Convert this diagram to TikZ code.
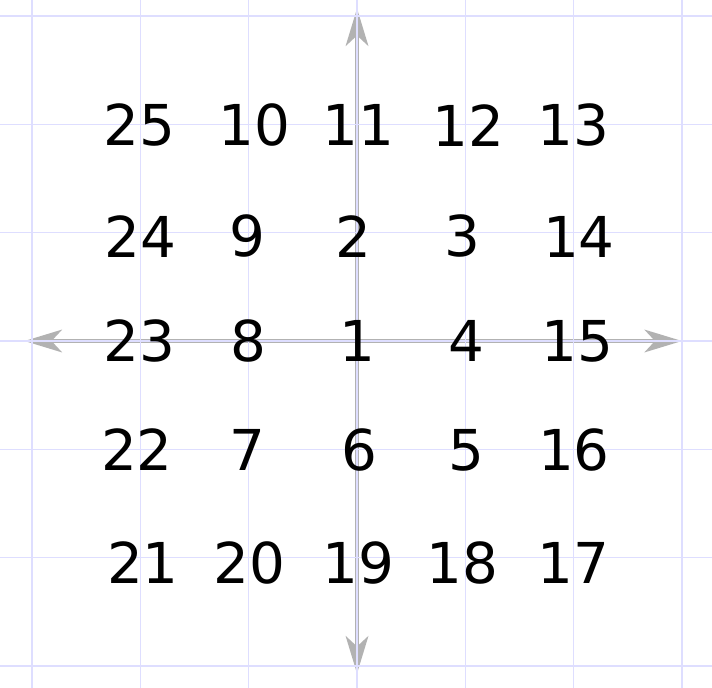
\documentclass[tikz,border=0pt]{standalone}
\usepackage{fontspec}
\setmainfont{DejaVu Sans}
\usetikzlibrary{arrows.meta}
\definecolor{axisG}{RGB}{178,178,178}
\definecolor{gridB}{RGB}{222,222,255}
\tikzset{
  axis/.style={{Stealth[length=9.8pt,width=5.9pt,inset=2.7pt]}-{Stealth[length=9.8pt,width=5.9pt,inset=2.7pt]}, line width=1.2pt, axisG},
  gridln/.style={line width=0.3pt, gridB},
  num/.style={font=\fontsize{14.8}{18}\selectfont, inner sep=0pt},
}

\begin{document}
\begin{tikzpicture}
  \useasboundingbox (-3.296,-3.203) rectangle (3.277,3.148);
  \fill[white] (-3.296,-3.203) rectangle (3.277,3.148);
  % axes
  \coordinate (xL) at (-3.07,0);
  \coordinate (xR) at (3,0);
  \coordinate (yB) at (0,-3.07);
  \coordinate (yT) at (0,3.07);
  \draw[axis] (xL) -- (xR);
  \draw[axis] (yB) -- (yT);
  % grid
  \foreach \k in {-3,...,3} {
    \draw[gridln] (\k,-3.203) -- (\k,3.148);
    \draw[gridln] (-3.296,\k) -- (3.277,\k);
  }
  % spiral numbers
  \foreach \n/\x/\y in {25/-2.007/1.99, 10/-0.951/1.99, 11/0.015/1.99, 12/1.025/1.99, 13/2.001/1.99,
                        24/-2.003/0.965, 9/-1.015/0.965, 2/-0.033/0.965, 3/0.973/0.965, 14/2.048/0.965,
                        23/-2.005/0, 8/-1.002/0, 1/0.003/0, 4/1.008/0, 15/2.031/0,
                        22/-2.032/-1.006, 7/-1.01/-1.006, 6/0.023/-1.006, 5/1.014/-1.006, 16/2.002/-1.006,
                        21/-1.977/-2.05, 20/-0.994/-2.05, 19/0.015/-2.05, 18/0.972/-2.05, 17/2.001/-2.05} {
    \node[num] (n\n) at (\x,\y) {\n};
  }
\end{tikzpicture}
\end{document}
